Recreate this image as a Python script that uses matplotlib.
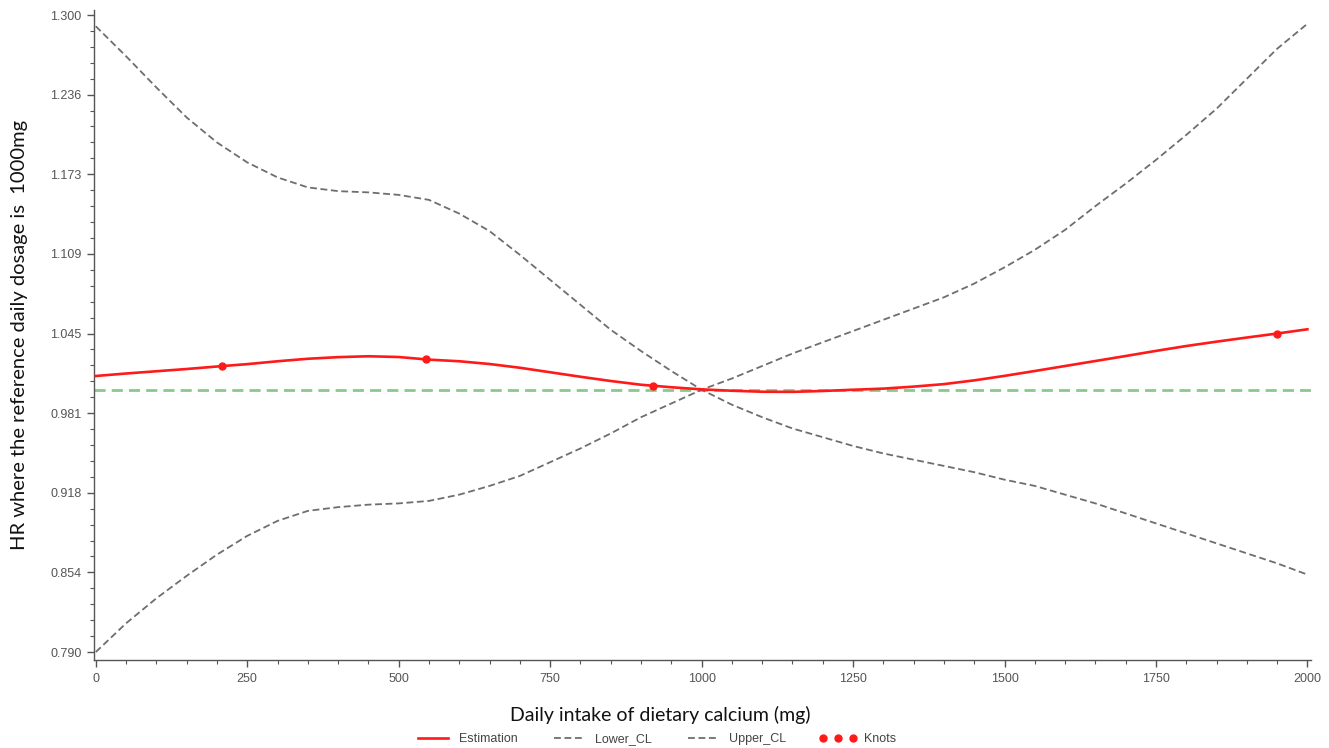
import numpy as np
from matplotlib import pyplot as plt
from matplotlib.ticker import AutoMinorLocator
from matplotlib.lines import Line2D

# calcium intake (mg)
dose = [0, 50, 100, 150, 200, 250, 300, 350, 400, 450, 500, 550, 600, 650, 700,
        750, 800, 850, 900, 950, 1000, 1050, 1100, 1150, 1200, 1250, 1300, 1350,
        1400, 1450, 1500, 1550, 1600, 1650, 1700, 1750, 1800, 1850, 1900, 1950, 2000]

estimation = [1.0110, 1.0130, 1.0148, 1.0166, 1.0186, 1.0205, 1.0228, 1.0248, 1.0261,
              1.0268, 1.0262, 1.0241, 1.0228, 1.0206, 1.0176, 1.0140, 1.0104, 1.0070,
              1.0040, 1.0020, 1.0003, 0.9992, 0.9984, 0.9983, 0.9990, 1.0000, 1.0009,
              1.0025, 1.0045, 1.0075, 1.0111, 1.0150, 1.0190, 1.0230, 1.0270, 1.0311,
              1.0350, 1.0385, 1.0418, 1.0450, 1.0484]

# band from upper left to lower right
lower_cl = [1.291, 1.267, 1.242, 1.218, 1.198, 1.182, 1.170, 1.162, 1.159, 1.158,
            1.156, 1.152, 1.141, 1.127, 1.108, 1.088, 1.068, 1.048, 1.031, 1.015,
            1.000, 0.988, 0.978, 0.969, 0.962, 0.955, 0.949, 0.944, 0.939, 0.934,
            0.928, 0.923, 0.916, 0.909, 0.901, 0.893, 0.885, 0.877, 0.869, 0.861, 0.852]

# band from lower left to upper right
upper_cl = [0.790, 0.813, 0.833, 0.851, 0.868, 0.883, 0.895, 0.903, 0.906, 0.908,
            0.909, 0.911, 0.916, 0.923, 0.931, 0.942, 0.953, 0.965, 0.978, 0.989,
            1.000, 1.009, 1.019, 1.029, 1.038, 1.047, 1.056, 1.065, 1.074, 1.085,
            1.098, 1.112, 1.128, 1.147, 1.165, 1.184, 1.204, 1.225, 1.249, 1.273, 1.293]

knots_x = [208, 545, 919, 1949]
knots_y = [1.0190, 1.0243, 1.0030, 1.0446]

ref_hr = 1.0

y_ticks = [0.790, 0.85375, 0.9175, 0.98125, 1.045, 1.10875, 1.1725, 1.23625, 1.300]
y_ticklabels = ["0.790", "0.854", "0.918", "0.981", "1.045", "1.109", "1.173", "1.236", "1.300"]
x_ticks = [0, 250, 500, 750, 1000, 1250, 1500, 1750, 2000]

fig = plt.figure(figsize=(13.29, 7.48), dpi=100)
ax = fig.add_axes([0.0707, 0.1176, 0.9158, 0.869])

gray = "#6e6e6e"
red = "#ff1a1a"
ax.plot(dose, lower_cl, color=gray, lw=1.3, dashes=(3.8, 2.0))
ax.plot(dose, upper_cl, color=gray, lw=1.3, dashes=(3.8, 2.0))
ax.axhline(ref_hr, color="#8cc88c", lw=2, dashes=(4.0, 2.2), zorder=1)
ax.plot(dose, estimation, color=red, lw=1.9, zorder=5)
ax.plot(knots_x, knots_y, "o", color=red, ms=5, zorder=6)

ax.set_xlim(-3, 2006)
ax.set_ylim(0.7836, 1.304)
ax.set_xticks(x_ticks)
ax.set_yticks(y_ticks)
ax.set_yticklabels(y_ticklabels)
ax.xaxis.set_minor_locator(AutoMinorLocator(5))
ax.yaxis.set_minor_locator(AutoMinorLocator(5))

for s in ["top", "right"]:
    ax.spines[s].set_visible(False)
for s in ["left", "bottom"]:
    ax.spines[s].set_color("#555555")
    ax.spines[s].set_linewidth(1.0)

ax.tick_params(which="major", length=5, width=1, color="#555555",
               labelsize=9, labelcolor="#555555", pad=4)
ax.tick_params(which="minor", length=3, width=0.8, color="#555555")
for lab in ax.get_xticklabels() + ax.get_yticklabels():
    lab.set_family("Liberation Sans")

ax.set_ylabel("HR where the reference daily dosage is  1000mg", family="Lato",
              fontsize=14.5, labelpad=16, color="#111111")
fig.text(660/1329, 1 - 715/748, "Daily intake of dietary calcium (mg)", family="Lato",
         fontsize=14, ha="center", va="center", color="#111111")

handles = [Line2D([], [], color=red, lw=1.9),
           Line2D([], [], color=gray, lw=1.3, dashes=(3.8, 2.0)),
           Line2D([], [], color=gray, lw=1.3, dashes=(3.8, 2.0)),
           Line2D([], [], color=red, marker="o", ls="none", ms=5)]
leg = fig.legend(handles, ["Estimation", "Lower_CL", "Upper_CL", "Knots"],
                 loc="center", bbox_to_anchor=(655/1329, 1 - 739/748), ncol=4,
                 frameon=False, numpoints=3, handlelength=3.0, handletextpad=0.6,
                 columnspacing=2.6,
                 prop={"family": "Liberation Sans", "size": 9})
for t in leg.get_texts():
    t.set_color("#444444")

plt.savefig("out.png", dpi=100)
